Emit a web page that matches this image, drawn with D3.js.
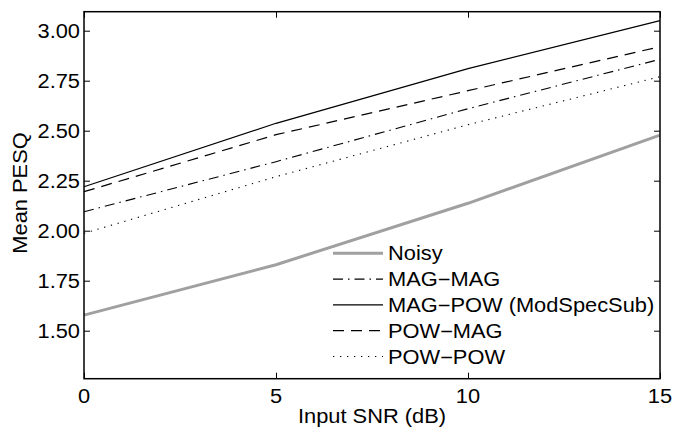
<!DOCTYPE html>
<html><head><meta charset="utf-8">
<script src="https://cdn.jsdelivr.net/npm/d3@7"></script>
<style>body{margin:0;background:#fff}svg{display:block}text{font-family:"Liberation Sans",Arial,sans-serif;fill:#000}</style>
</head><body><svg id="c" width="674" height="427"></svg>
<script>
const snr = [0, 5, 10, 15];
const noisy = [1.578, 1.83, 2.137, 2.478];
const magMag = [2.095, 2.345, 2.61, 2.857];
const magPow = [2.22, 2.537, 2.81, 3.05];
const powMag = [2.195, 2.48, 2.70, 2.92];
const powPow = [1.987, 2.27, 2.53, 2.77];
const xTicks = [0, 5, 10, 15];
const yTicks = [1.50, 1.75, 2.00, 2.25, 2.50, 2.75, 3.00];
const seriesNames = ["Noisy", "MAG\u2212MAG", "MAG\u2212POW (ModSpecSub)", "POW\u2212MAG", "POW\u2212POW"];
const seriesData = [noisy, magMag, magPow, powMag, powPow];
const seriesColor = ["#a0a0a0", "#000", "#000", "#000", "#000"];
const seriesWidth = [3, 1.1, 1.2, 1.2, 1.1];
const seriesDash = [null, "10,5,1.5,5", null, "11,7", "1.3,5.7"];

const L = 84, R = 660, T = 11.7, B = 378.7;
const FS = 19.5, SX = 1.12;
const svg = d3.select("#c");
const x = d3.scaleLinear().domain([0, 15]).range([L, R]);
const y = d3.scaleLinear().domain([1.26, 3.095]).range([B, T]);

function label(px, py, str, anchor, rot, dy) {
  const g = svg.append("g").attr("transform", `translate(${px},${py}) rotate(${rot || 0})`);
  g.append("text").attr("transform", `scale(${SX},1)`).attr("text-anchor", anchor)
    .attr("dy", dy || 0).style("font-size", FS + "px").text(str);
  return g;
}

const line = d3.line().x((d, i) => x(snr[i])).y(d => y(d));
seriesData.forEach((s, k) => {
  svg.append("path").attr("d", line(s)).attr("fill", "none")
    .attr("stroke", seriesColor[k]).attr("stroke-width", seriesWidth[k])
    .attr("stroke-dasharray", seriesDash[k]);
});

// ticks (inward, on all four sides) via d3 axes, labels drawn separately
const gB = svg.append("g").attr("transform", `translate(0,${B})`)
  .call(d3.axisBottom(x).tickValues(xTicks).tickSize(-6).tickFormat(""));
const gT = svg.append("g").attr("transform", `translate(0,${T})`)
  .call(d3.axisTop(x).tickValues(xTicks).tickSize(-6).tickFormat(""));
const gL = svg.append("g").attr("transform", `translate(${L},0)`)
  .call(d3.axisLeft(y).tickValues(yTicks).tickSize(-6).tickFormat(""));
const gR = svg.append("g").attr("transform", `translate(${R},0)`)
  .call(d3.axisRight(y).tickValues(yTicks).tickSize(-6).tickFormat(""));
[gB, gT, gL, gR].forEach(g => {
  g.select(".domain").remove();
  g.selectAll(".tick line").attr("stroke", "#000").attr("stroke-width", 1);
});
const fmtX = d3.format("d"), fmtY = d3.format(".2f");
xTicks.forEach(v => label(x(v), 402.5, fmtX(v), "middle"));
yTicks.forEach(v => label(80, y(v), fmtY(v), "end", 0, "0.36em"));

svg.append("rect").attr("x", L).attr("y", T).attr("width", R - L).attr("height", B - T)
  .attr("fill", "none").attr("stroke", "#000").attr("stroke-width", 1.5);

// axis labels
label((L + R) / 2, 423, "Input SNR (dB)", "middle");
label(27, 193, "Mean PESQ", "middle", -90);

// legend
seriesNames.forEach((n, k) => {
  const yy = 253.3 + k * 25.8;
  svg.append("line").attr("x1", 333).attr("x2", 383).attr("y1", yy).attr("y2", yy)
    .attr("stroke", seriesColor[k]).attr("stroke-width", seriesWidth[k])
    .attr("stroke-dasharray", seriesDash[k]);
  label(388, yy, n, "start", 0, "0.36em");
});
</script></body></html>
